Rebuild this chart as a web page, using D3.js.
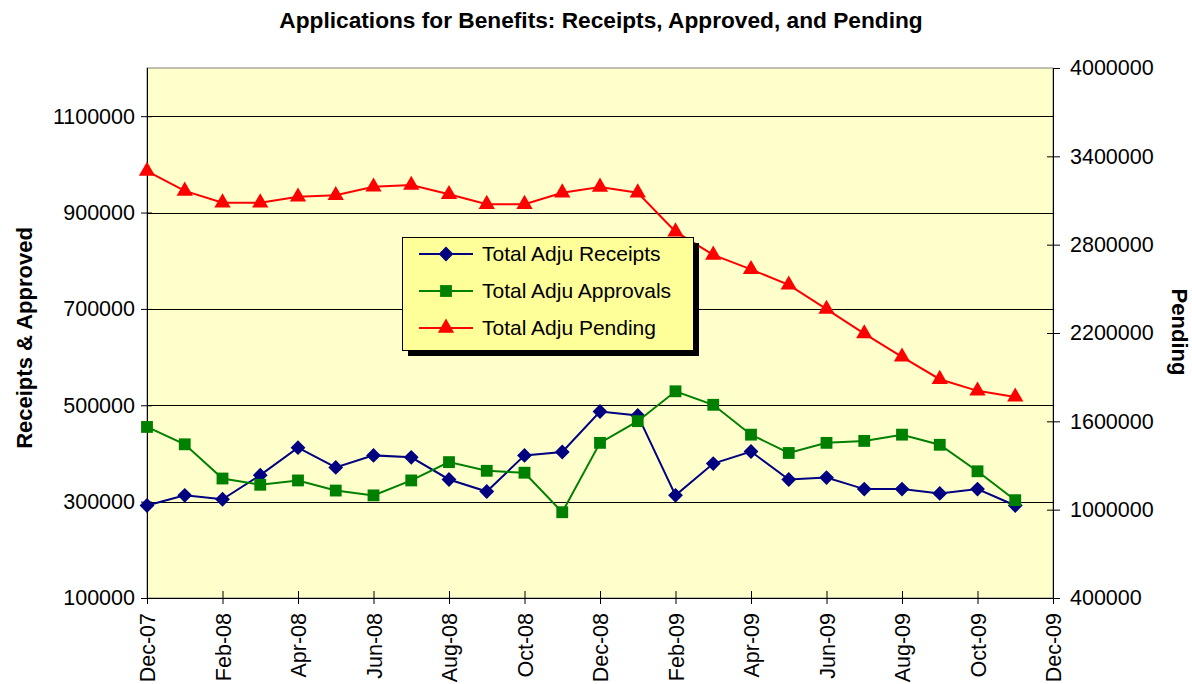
<!DOCTYPE html>
<html lang="en">
<head>
  <meta charset="UTF-8">
  <title>Applications for Benefits</title>
  <style>
    body { margin: 0; background: #ffffff; }
    svg { display: block; }
    text { font-family: "Liberation Sans", Arial, sans-serif; fill: #000; }
    .tick-label { font-size: 21.5px; }
    .title { font-size: 22.7px; font-weight: bold; }
    .axis-title { font-size: 22px; font-weight: bold; }
    .legend-text { font-size: 21px; }
  </style>
</head>
<body>
  <svg id="chart"></svg>

  <script src="https://d3js.org/d3.v7.min.js"></script>
  <script>
    // --- data ---
    const months = ["Dec-07", "Jan-08", "Feb-08", "Mar-08", "Apr-08", "May-08", "Jun-08", "Jul-08",
      "Aug-08", "Sep-08", "Oct-08", "Nov-08", "Dec-08", "Jan-09", "Feb-09", "Mar-09", "Apr-09",
      "May-09", "Jun-09", "Jul-09", "Aug-09", "Sep-09", "Oct-09", "Nov-09", "Dec-09"];

    const receipts = [292000, 313000, 305000, 355000, 412000, 371000, 396000, 392000,
      346000, 321000, 396000, 403000, 487000, 479000, 313000, 379000, 404000,
      346000, 350000, 326000, 326000, 317000, 326000, 292000];

    const approvals = [455000, 419000, 348000, 335000, 344000, 323000, 313000, 344000,
      382000, 364000, 360000, 278000, 422000, 467000, 529000, 501000, 439000,
      401000, 422000, 426000, 439000, 418000, 363000, 303000];

    const pending = [3300000, 3165000, 3085000, 3085000, 3125000, 3135000, 3193000, 3205000,
      3142000, 3075000, 3075000, 3153000, 3192000, 3153000, 2888000, 2730000, 2632000,
      2527000, 2362000, 2196000, 2038000, 1886000, 1807000, 1766000];

    const leftTicks = [100000, 300000, 500000, 700000, 900000, 1100000];
    const rightTicks = [400000, 1000000, 1600000, 2200000, 2800000, 3400000, 4000000];
    const xTickIdx = [0, 2, 4, 6, 8, 10, 12, 14, 16, 18, 20, 22, 24];

    // --- layout ---
    const width = 1192, height = 684;
    const plot = { left: 147, right: 1053, top: 68, bottom: 598 };

    const svg = d3.select("#chart").attr("width", width).attr("height", height);

    const x = d3.scaleLinear().domain([0, 24]).range([plot.left, plot.right]);
    const yL = d3.scaleLinear().domain([100000, 1200000]).range([plot.bottom, plot.top]);
    const yR = d3.scaleLinear().domain([400000, 4000000]).range([plot.bottom, plot.top]);

    // plot background
    svg.append("rect")
      .attr("x", plot.left).attr("y", plot.top)
      .attr("width", plot.right - plot.left).attr("height", plot.bottom - plot.top)
      .attr("fill", "#ffffcc").attr("stroke", "#808080").attr("stroke-width", 1);

    // gridlines (left axis)
    svg.append("g").selectAll("line")
      .data(leftTicks.slice(1))
      .join("line")
      .attr("x1", plot.left).attr("x2", plot.right)
      .attr("y1", d => Math.round(yL(d)) + 0.5).attr("y2", d => Math.round(yL(d)) + 0.5)
      .attr("stroke", "#000").attr("stroke-width", 1);

    // left axis
    const gL = svg.append("g").attr("transform", `translate(${plot.left},0)`)
      .call(d3.axisLeft(yL).tickValues(leftTicks).tickSize(6).tickPadding(6)
        .tickFormat(d3.format("d")));
    gL.select(".domain").attr("stroke", "#000").attr("d", `M0.5,${plot.top}V${plot.bottom}`);
    gL.selectAll(".tick line").attr("x1", 5).attr("stroke", "#000");
    gL.selectAll(".tick text").attr("class", "tick-label");
    gL.attr("font-size", null).attr("font-family", null);

    // right axis
    const gR = svg.append("g").attr("transform", `translate(${plot.right},0)`)
      .call(d3.axisRight(yR).tickValues(rightTicks).tickSize(7).tickPadding(10)
        .tickFormat(d3.format("d")));
    gR.select(".domain").attr("stroke", "#000").attr("d", `M0.5,${plot.top}V${plot.bottom}`);
    gR.selectAll(".tick line").attr("x1", d => d === 4000000 ? 0 : -6).attr("stroke", "#000");
    gR.selectAll(".tick text").attr("class", "tick-label");
    gR.attr("font-size", null).attr("font-family", null);

    // bottom axis
    const gB = svg.append("g").attr("transform", `translate(0,${plot.bottom})`)
      .call(d3.axisBottom(x).tickValues(xTickIdx).tickSize(6).tickFormat(i => months[i]));
    gB.select(".domain").attr("stroke", "#000").attr("d", `M${plot.left},0.5H${plot.right}`);
    gB.selectAll(".tick line").attr("y1", d => (d === 0 || d === 24) ? 0 : -7).attr("stroke", "#000");
    gB.selectAll(".tick text")
      .attr("class", "tick-label")
      .attr("y", null).attr("dy", "0.35em")
      .attr("text-anchor", "end")
      .attr("transform", "translate(0,15) rotate(-90)");
    gB.attr("font-size", null).attr("font-family", null);

    // series
    const series = [
      { name: "Total Adju Receipts", values: receipts, color: "#000080", y: yL,
        symbol: d3.symbolSquare, size: 110, rotate: 45 },
      { name: "Total Adju Approvals", values: approvals, color: "#008000", y: yL,
        symbol: d3.symbolSquare, size: 140, rotate: 0 },
      { name: "Total Adju Pending", values: pending, color: "#ff0000", y: yR,
        symbol: d3.symbolTriangle, size: 115, rotate: 0 }
    ];

    series.forEach(s => {
      const line = d3.line().x((d, i) => x(i)).y(d => s.y(d));
      svg.append("path")
        .datum(s.values)
        .attr("d", line)
        .attr("fill", "none")
        .attr("stroke", s.color)
        .attr("stroke-width", 2);
      svg.append("g").selectAll("path")
        .data(s.values)
        .join("path")
        .attr("d", d3.symbol().type(s.symbol).size(s.size))
        .attr("transform", (d, i) => `translate(${x(i)},${s.y(d)}) rotate(${s.rotate})`)
        .attr("fill", s.color);
    });

    // title
    svg.append("text").attr("class", "title")
      .attr("x", 601).attr("y", 28).attr("text-anchor", "middle")
      .text("Applications for Benefits: Receipts, Approved, and Pending");

    svg.append("text").attr("class", "axis-title")
      .attr("text-anchor", "middle")
      .attr("transform", "translate(32,338) rotate(-90)")
      .text("Receipts & Approved");

    svg.append("text").attr("class", "axis-title")
      .attr("text-anchor", "middle")
      .attr("transform", "translate(1172,332) rotate(90)")
      .text("Pending");

    // legend
    const lg = { x: 402, y: 237, w: 291, h: 113 };
    svg.append("rect")
      .attr("x", lg.x + 6).attr("y", lg.y + 6).attr("width", lg.w).attr("height", lg.h)
      .attr("fill", "#000");
    svg.append("rect")
      .attr("x", lg.x + 0.5).attr("y", lg.y + 0.5).attr("width", lg.w).attr("height", lg.h)
      .attr("fill", "#ffff99").attr("stroke", "#000").attr("stroke-width", 1);

    const items = svg.append("g").selectAll("g")
      .data(series)
      .join("g")
      .attr("transform", (d, i) => `translate(${lg.x},${lg.y + 17 + i * 37})`);
    items.append("line")
      .attr("x1", 17).attr("x2", 71).attr("y1", 0).attr("y2", 0)
      .attr("stroke", d => d.color).attr("stroke-width", 2);
    items.append("path")
      .attr("d", d => d3.symbol().type(d.symbol).size(d.size)())
      .attr("transform", d => `translate(44,0) rotate(${d.rotate})`)
      .attr("fill", d => d.color);
    items.append("text")
      .attr("class", "legend-text")
      .attr("x", 80).attr("y", 0).attr("dy", "0.35em")
      .text(d => d.name);
  </script>
</body>
</html>
